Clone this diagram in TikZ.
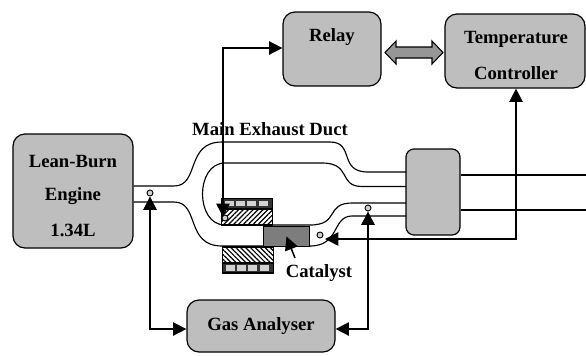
\documentclass[tikz,border=0pt]{standalone}
\usepackage{fontspec}
\setmainfont{Liberation Serif}
\usetikzlibrary{calc,shapes,arrows.meta,patterns.meta}
\definecolor{BoxGray}{RGB}{190,190,190}
\definecolor{CatalystGray}{RGB}{125,125,125}
\definecolor{LinkGray}{RGB}{150,150,150}
\definecolor{StripGray}{RGB}{210,210,210}
\tikzset{
	box/.style={draw, line width=0.9pt, fill=BoxGray, rounded corners=9pt, align=center, inner sep=0pt, font=\bfseries\fontsize{14}{16}\selectfont},
	boxtext/.style={inner sep=0pt, font=\bfseries\fontsize{14}{16}\selectfont},
	duct/.style={line width=0.85pt},
	signal/.style={line width=1.1pt, -{Triangle[length=10pt,width=10pt]}},
	twoway/.style={line width=1.1pt, {Triangle[length=10pt,width=10pt]}-{Triangle[length=10pt,width=10pt]}},
	sensor/.style={draw, circle, line width=0.7pt, fill=StripGray, minimum size=4.5pt, inner sep=0pt},
	heater/.style={draw, line width=0.9pt, minimum width=38pt, minimum height=12pt, inner sep=0pt},
	strip/.style={draw, line width=0.9pt, fill=black!80, minimum width=38pt, minimum height=7.5pt, inner sep=0pt}
}
\begin{document}
\begin{tikzpicture}[x=0.75pt, y=-0.75pt]
	\useasboundingbox (0,0) rectangle (586,355);
	% boxes
	\node [box, minimum width=90pt, minimum height=85.5pt] (engine) at (73,191) {};
	\node [box, minimum width=73.5pt, minimum height=55.5pt] (relay) at (332,49) {};
	\node [box, minimum width=105pt, minimum height=55.5pt] (controller) at (515,51) {};
	\node [box, minimum width=111pt, minimum height=39pt] (analyser) at (261,326) {Gas Analyser};
	\node [box, minimum width=40.5pt, minimum height=64.5pt, rounded corners=6pt] (silencer) at (433,192) {};
	\node [boxtext] (enginea) at (73,161) {Lean-Burn};
	\node [boxtext] (engineb) at (73,196) {Engine};
	\node [boxtext] (enginec) at (73,230) {1.34L};
	\node [boxtext] (relaytext) at (332,37) {Relay};
	\node [boxtext] (tempa) at (516,39) {Temperature};
	\node [boxtext] (tempb) at (516,73) {Controller};
	\node [boxtext] (mainduct) at (270,129) {Main Exhaust Duct};
	\node [boxtext] (catalysttext) at (319,273) {Catalyst};
	% heater
	\node [strip] (stripa) at (247,203.5) {};
	\node [heater, pattern={Lines[angle=45,distance=2.6pt,line width=0.9pt]}] (heatera) at (247,217) {};
	\node [heater, pattern={Lines[angle=-45,distance=2.6pt,line width=0.9pt]}] (heaterb) at (248,255) {};
	\node [strip] (stripb) at (248,268) {};
	\foreach \i in {0,1,2,3} {
		\fill [StripGray] ($(stripa.west)+(4+11.2*\i,-2.7)$) rectangle +(9,5.4);
		\fill [StripGray] ($(stripb.west)+(4+11.2*\i,-2.7)$) rectangle +(9,5.4);
	}
	% duct
	\coordinate (outa) at (engine.east |- 0,186);
	\coordinate (outb) at (engine.east |- 0,202);
	\draw [duct] (outa) -- (174,186) .. controls (200,186) and (185,142) .. (222,142) -- (330,142) .. controls (355,142) and (338,172) .. (368,172) -- (406,172);
	\draw [duct] (outb) -- (174,202) .. controls (200,202) and (185,246) .. (222,246) -- (310,246) .. controls (340,246) and (332,216) .. (352,216) -- (406,216);
	\draw [duct] (406,186.5) -- (362,186.5) .. controls (338,186.5) and (352,163) .. (322,163) -- (225,163) .. controls (195,163) and (195,225) .. (225,225) -- (310,225) .. controls (340,225) and (325,203) .. (352,203) -- (406,203);
	% catalyst
	\node [draw, line width=0.9pt, fill=CatalystGray, minimum width=35pt, minimum height=14.5pt, inner sep=0pt] (catalyst) at (286.5,236.5) {};
	% outlet
	\coordinate (enda) at (586,175);
	\coordinate (endb) at (586,210);
	\draw [duct] (silencer.east |- enda) -- (enda);
	\draw [duct] (silencer.east |- endb) -- (endb);
	% sensors
	\node [sensor] (sensora) at (150,193) {};
	\node [sensor] (sensorb) at (368,208) {};
	\node [sensor] (sensorc) at (320,235) {};
	\node [sensor] (sensord) at (225,218) {};
	% arrows
	\coordinate (relaycorner) at (223,48);
	\coordinate (relaytip) at (223,217);
	\coordinate (controlcorner) at (516,239);
	\coordinate (controltip) at (325,239);
	\coordinate (analysera) at (150,329);
	\coordinate (analyserb) at (368,329);
	\coordinate (catalystfoot) at (295,258);
	\draw [twoway] (sensora) -- (analysera) -- (analyser.west |- analysera);
	\draw [twoway] (sensorb) -- (analyserb) -- (analyser.east |- analyserb);
	\draw [twoway] (relaytip) -- (relaycorner) -- (relay.west |- relaycorner);
	\draw [twoway] (controltip) -- (controlcorner) -- (controller.south -| controlcorner);
	\draw [signal] (catalystfoot) -- (catalyst.center);
	% relay link
	\draw [line width=0.8pt, fill=LinkGray] (385,52.5) -- (396,41) -- (396,47) -- (432,47) -- (432,41) -- (443,52.5) -- (432,64) -- (432,58) -- (396,58) -- (396,64) -- cycle;
\end{tikzpicture}
\end{document}
